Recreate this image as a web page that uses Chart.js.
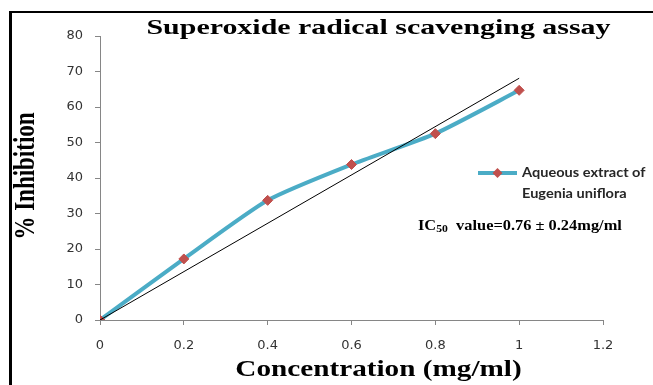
<!DOCTYPE html>
<html>
<head>
<meta charset="utf-8">
<script src="https://cdn.jsdelivr.net/npm/chart.js@4.4.1/dist/chart.umd.min.js"></script>
<style>
  html, body { margin: 0; padding: 0; background: #fff; }
  canvas { display: block; }
</style>
</head>
<body>
<canvas id="chart" width="653" height="385"></canvas>
<script>
// values
const concentrations = [0, 0.2, 0.4, 0.6, 0.8, 1.0];
const inhibition = [0, 17.2, 33.7, 43.8, 52.5, 64.7];
const trendX = [0, 1.0];
const trendY = [0, 68.1];

const seriesLabel = ['Aqueous extract of', 'Eugenia uniflora'];
const chartTitle = 'Superoxide radical scavenging assay';
const xTitle = 'Concentration (mg/ml)';
const yTitle = '% Inhibition';

const LINE_COLOR = '#4bacc6';
const MARK_COLOR = '#c0504d';
const SERIF = '"Liberation Serif", "Times New Roman", serif';

// the reference text is drawn wider than it is tall
function wideText(ctx, text, x, y, font, align, stretch) {
  ctx.save();
  ctx.font = font;
  ctx.textBaseline = 'middle';
  ctx.textAlign = 'left';
  const w = ctx.measureText(text).width * stretch;
  let x0 = x;
  if (align === 'center') x0 = x - w / 2;
  ctx.translate(x0, y);
  ctx.scale(stretch, 1);
  ctx.fillText(text, 0, 0);
  ctx.restore();
  return w;
}

const decorations = {
  id: 'decorations',
  afterDraw(chart) {
    const ctx = chart.ctx;
    const area = chart.chartArea;
    const midX = (area.left + chart.width) / 2 + 2;
    ctx.save();
    ctx.fillStyle = '#000';

    // frame
    ctx.fillRect(9, 11, 3, chart.height - 11);
    ctx.fillRect(9, 11, chart.width - 9, 2);

    // title and axis titles
    wideText(ctx, chartTitle, midX, 28, 'bold 22px ' + SERIF, 'center', 1.36);
    wideText(ctx, xTitle, midX, 370, 'bold 23px ' + SERIF, 'center', 1.27);
    ctx.save();
    ctx.translate(26, (area.top + area.bottom) / 2 - 2);
    ctx.rotate(-Math.PI / 2);
    ctx.font = 'bold 23px ' + SERIF;
    ctx.textAlign = 'center';
    ctx.textBaseline = 'middle';
    ctx.scale(1, 1.3);
    ctx.fillText(yTitle, 0, 0);
    ctx.restore();

    // legend entry
    const ds = chart.data.datasets[0];
    const ly = 173;
    const r = ds.pointRadius;
    ctx.strokeStyle = ds.borderColor;
    ctx.lineWidth = ds.borderWidth;
    ctx.beginPath();
    ctx.moveTo(478, ly);
    ctx.lineTo(517, ly);
    ctx.stroke();
    ctx.fillStyle = MARK_COLOR;
    ctx.beginPath();
    ctx.moveTo(497.5, ly - r);
    ctx.lineTo(497.5 + r, ly);
    ctx.lineTo(497.5, ly + r);
    ctx.lineTo(497.5 - r, ly);
    ctx.closePath();
    ctx.fill();
    ctx.fillStyle = '#262626';
    wideText(ctx, seriesLabel[0], 522, ly, 'bold 13px Lato', 'left', 1.12);
    wideText(ctx, seriesLabel[1], 522, ly + 21, 'bold 13px Lato', 'left', 1.12);

    // IC50 annotation
    ctx.fillStyle = '#000';
    let x = 418;
    const iy = 226;
    const s = 1.17;
    x += wideText(ctx, 'IC', x, iy, 'bold 14px ' + SERIF, 'left', s);
    x += wideText(ctx, '50', x, iy + 3, 'bold 10px ' + SERIF, 'left', s);
    wideText(ctx, '  value=0.76 \u00b1 0.24mg/ml', x, iy, 'bold 14px ' + SERIF, 'left', s);
    ctx.restore();
  }
};

const axisGrey = '#868686';

new Chart(document.getElementById('chart'), {
  type: 'scatter',
  data: {
    datasets: [
      {
        label: seriesLabel.join(' '),
        data: concentrations.map((c, i) => ({ x: c, y: inhibition[i] })),
        showLine: true,
        borderColor: LINE_COLOR,
        borderWidth: 4,
        tension: 0.2,
        pointStyle: 'rectRot',
        pointRadius: 5,
        pointBackgroundColor: MARK_COLOR,
        pointBorderColor: MARK_COLOR,
        pointBorderWidth: 1,
        order: 1
      },
      {
        label: 'Linear trend',
        data: trendX.map((c, i) => ({ x: c, y: trendY[i] })),
        showLine: true,
        borderColor: '#000',
        borderWidth: 1,
        pointRadius: 0,
        tension: 0,
        order: 0
      }
    ]
  },
  options: {
    responsive: false,
    animation: false,
    devicePixelRatio: 1,
    layout: { padding: { top: 36, right: 50, left: 0, bottom: 0 } },
    plugins: {
      legend: { display: false },
      title: { display: false },
      tooltip: { enabled: false }
    },
    scales: {
      x: {
        type: 'linear',
        min: 0,
        max: 1.2,
        afterFit: s => { s.height = 65; },
        border: { color: axisGrey, width: 1 },
        grid: { drawOnChartArea: false, drawTicks: true, tickLength: 5, color: axisGrey },
        ticks: {
          stepSize: 0.2,
          padding: 13,
          color: '#333',
          font: { family: 'DejaVu Sans', size: 13 },
          callback: v => String(+v.toFixed(1))
        }
      },
      y: {
        min: 0,
        max: 80,
        afterFit: s => { s.width = 100; },
        border: { color: axisGrey, width: 1 },
        grid: { drawOnChartArea: false, drawTicks: true, tickLength: 5, color: axisGrey },
        ticks: {
          stepSize: 10,
          padding: 12,
          color: '#333',
          font: { family: 'DejaVu Sans', size: 13 }
        }
      }
    }
  },
  plugins: [decorations]
});
</script>
</body>
</html>
